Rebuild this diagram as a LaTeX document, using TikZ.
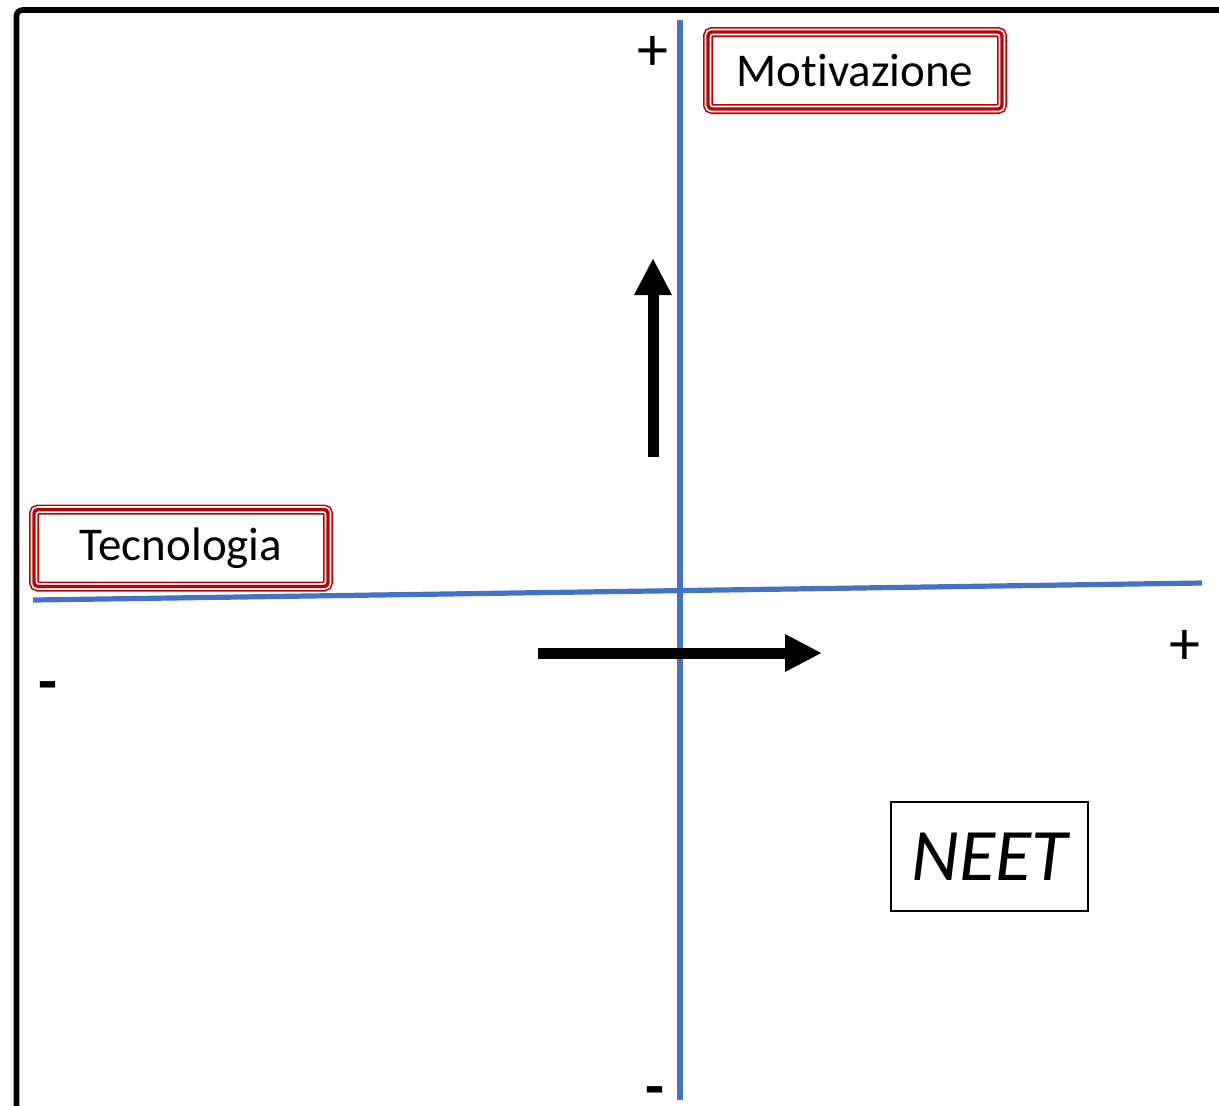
\documentclass[tikz,border=0pt]{standalone}
\usepackage{fontspec}
\setmainfont{Carlito}[Ligatures=NoCommon]
\usetikzlibrary{arrows.meta}
\definecolor{axisblue}{RGB}{68,114,196}
\definecolor{boxred}{RGB}{192,0,0}

\begin{document}
\begin{tikzpicture}[x=0.5pt, y=-0.5pt,
  label box/.style={draw=boxred, line width=1.7pt, rounded corners=2pt,
    minimum width=147pt, minimum height=38.5pt, inner sep=0pt,
    font=\fontsize{23.5}{28}\selectfont,
    preaction={draw=boxred, line width=5pt},
    preaction={draw=white, line width=3.4pt}},
  sign/.style={font=\fontsize{31}{36}\selectfont, inner sep=0pt},
  minus sign/.style={sign, font=\fontsize{31}{36}\selectfont\bfseries,
    text height=0.34em, text depth=-0.22em, yshift=-8pt},
  axis/.style={draw=axisblue, line width=2.6pt},
  big arrow/.style={line width=5.5pt, -{Triangle[length=18.5pt, width=17.5pt]}}]

  \useasboundingbox (0,0) rectangle (1219,1105);
  \draw[line width=2.8pt, rounded corners=3pt] (16.5,1120) -- (16.5,10) -- (1235,10);

  \coordinate (mot top) at (680,20);
  \coordinate (mot bottom) at (680,1100);
  \coordinate (tec left) at (33,600);
  \coordinate (tec right) at (1202,583);

  \draw[axis] (mot bottom) -- (mot top);
  \draw[axis] (tec left) -- (tec right);

  \node[label box] (motivazione) at (855,70.5) {Motivazione};
  \node[label box] (tecnologia) at (181,548) {Tecnologia};
  \node[draw, line width=1pt, minimum width=98.5pt, minimum height=54.5pt,
    font=\fontsize{37}{44}\selectfont\itshape] (neet) at (989.5,856.5) {NEET};

  \node[sign] (mot plus) at (653,53) {+};
  \node[minus sign] (mot minus) at (655,1088) {-};
  \node[sign] (tec plus) at (1185,647) {+};
  \node[minus sign] (tec minus) at (48,683) {-};

  \coordinate (up start) at (653,457);
  \coordinate (up tip) at (653,258);
  \coordinate (right start) at (538,653);
  \coordinate (right tip) at (822,653);

  \draw[big arrow] (up start) -- (up tip);
  \draw[big arrow] (right start) -- (right tip);
\end{tikzpicture}
\end{document}
